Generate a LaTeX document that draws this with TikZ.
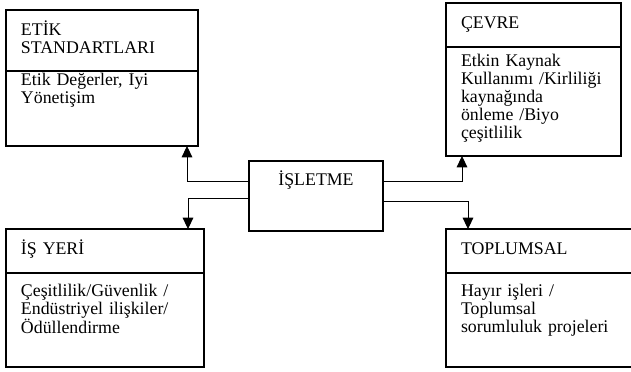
\documentclass[tikz,border=0pt]{standalone}
\usepackage{fontspec}
\setmainfont{Liberation Serif}
\usepackage{tikz}
\usetikzlibrary{arrows.meta,positioning}
\tikzset{
  parca/.style={draw, line width=0.9pt, align=left, anchor=north west, inner xsep=0.45cm, inner ysep=0pt, outer sep=0pt},
  baslik/.style={parca, text height=0.77cm, text depth=0.55cm},
  govde/.style={parca},
  ok/.style={-{Triangle[width=0.32cm,length=0.34cm]}, line width=0.8pt}
}

\begin{document}
\begin{tikzpicture}[font=\fontsize{15.2}{15.5}\selectfont]
  \useasboundingbox (0,0) rectangle (18.93,-11.13);
  \clip (0,0) rectangle (18.93,-11.13);
  % kutular
  \node[baslik, text width=4.86cm, text height=0.76cm, text depth=1.07cm] (etik) at (0.18,-0.30) {ETİK\\STANDARTLARI};
  \node[govde, text width=4.86cm, text height=0.43cm, text depth=1.82cm, below=0pt of etik] (etikic) {Etik Değerler, İyi\\Yönetişim};
  \node[baslik, text width=4.35cm, text height=0.75cm, text depth=0.57cm] (cevre) at (13.38,-0.09) {ÇEVRE};
  \node[govde, text width=4.35cm, text height=0.58cm, text depth=2.69cm, below=0pt of cevre] (cevreic) {Etkin Kaynak\\Kullanımı /Kirliliği\\kaynağında\\önleme /Biyo\\çeşitlilik};
  \node[parca, align=center, text width=3.12cm, text height=0.73cm, text depth=1.37cm] (isletme) at (7.47,-4.83) {İŞLETME};
  \node[baslik, text width=5.04cm] (isyeri) at (0.18,-6.87) {İŞ YERİ};
  \node[govde, text width=5.04cm, text height=0.70cm, text depth=2.12cm, below=0pt of isyeri] (isyeriic) {Çeşitlilik/Güvenlik /\\Endüstriyel ilişkiler/\\Ödüllendirme};
  \node[baslik, text width=5.1cm] (toplum) at (13.38,-6.87) {TOPLUMSAL};
  \node[govde, text width=5.1cm, text height=0.70cm, text depth=2.12cm, below=0pt of toplum] (toplumic) {Hayır işleri /\\Toplumsal\\sorumluluk projeleri};
  % oklar
  \draw[ok] ([yshift=0.45cm]isletme.west) -| ([xshift=-0.33cm]etikic.south east);
  \draw[ok] ([yshift=-0.06cm]isletme.west) -| ([xshift=-0.48cm]isyeri.north east);
  \draw[ok] ([yshift=0.45cm]isletme.east) -| ([xshift=0.48cm]cevreic.south west);
  \draw[ok] ([yshift=-0.15cm]isletme.east) -| ([xshift=0.66cm]toplum.north west);
\end{tikzpicture}
\end{document}
